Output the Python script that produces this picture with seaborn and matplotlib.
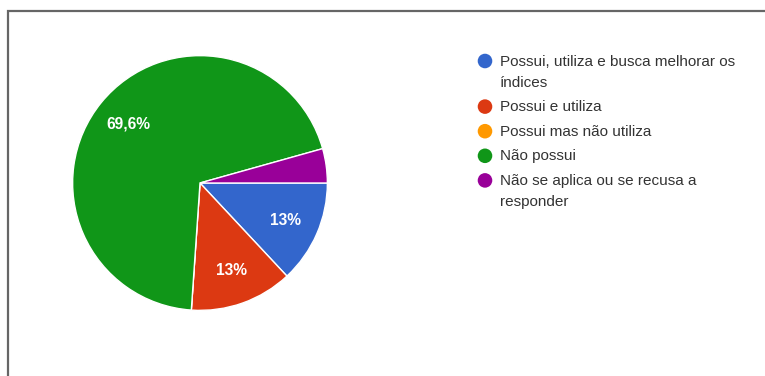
import matplotlib
matplotlib.use("Agg")
import matplotlib.pyplot as plt
import matplotlib.patches as mpatches
import seaborn as sns

# Survey answers (respondent counts)
categories = [
    "Possui, utiliza e busca melhorar os\níndices",
    "Possui e utiliza",
    "Possui mas não utiliza",
    "Não possui",
    "Não se aplica ou se recusa a\nresponder",
]
counts = [3, 3, 0, 16, 1]
colors = ["#3366cc", "#dc3912", "#ff9900", "#109618", "#990099"]

sns.set_theme(style="white")
plt.rcParams["font.family"] = ["Liberation Sans", "DejaVu Sans"]

W, H = 765, 376
fig = plt.figure(figsize=(W / 100, H / 100), dpi=100)
fig.patch.set_facecolor("white")


def px_box(left, top, width, height):
    return [left / W, 1 - (top + height) / H, width / W, height / H]


# Pie
ax = fig.add_axes(px_box(72, 55, 256, 256))


def fmt_pct(p):
    if p < 5:
        return ""
    r = round(p, 1)
    if abs(r - round(r)) < 1e-9:
        s = f"{int(round(r))}"
    else:
        s = f"{r:.1f}".replace(".", ",")
    return s + "%"


wedges, _, autotexts = ax.pie(
    counts,
    colors=colors,
    startangle=0,
    counterclock=False,
    radius=1,
    autopct=fmt_pct,
    pctdistance=0.73,
    wedgeprops=dict(edgecolor="white", linewidth=1.0, clip_on=False),
    textprops=dict(color="white", fontsize=11.2),
)
for t in autotexts:
    t.set_fontweight("semibold")
ax.set_aspect("equal")
ax.set_xlim(-1.005, 1.005)
ax.set_ylim(-1.005, 1.005)
ax.axis("off")

# Legend drawn in pixel coordinates, one text per wrapped line
lax = fig.add_axes([0, 0, 1, 1])
lax.set_xlim(0, W)
lax.set_ylim(H, 0)
lax.axis("off")
y = 61.0
line_h = 21.0
for label, c in zip(categories, colors):
    lax.scatter([485], [y], s=110, color=c, edgecolors="none", zorder=3)
    lines = label.split("\n")
    for i, line in enumerate(lines):
        lax.text(500, y + 4.7 + i * line_h, line, fontsize=11,
                 color="#333333", va="baseline", ha="left")
    y += line_h * (len(lines) - 1) + 24.6

# Frame lines along top and left edges
fig.add_artist(mpatches.Rectangle((8 / W, -0.2), 2.0, 1.2 - 11 / H,
                                  transform=fig.transFigure, fill=False,
                                  edgecolor="#666666", linewidth=1.6))

fig.savefig("out.png", dpi=100)
